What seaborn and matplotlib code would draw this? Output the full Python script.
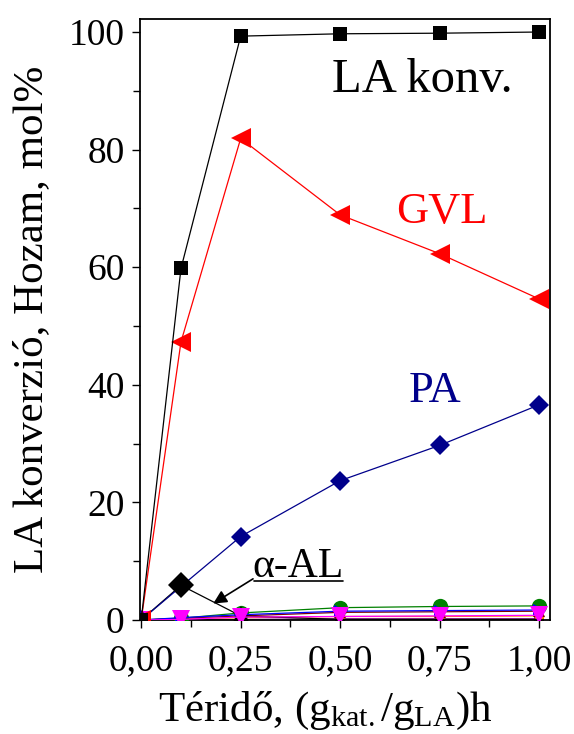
import matplotlib
matplotlib.use("Agg")
import matplotlib.pyplot as plt
from matplotlib.ticker import MultipleLocator, FuncFormatter
import seaborn as sns
import numpy as np

sns.set_theme(style="ticks")
plt.rcParams["font.family"] = ["Liberation Serif", "DejaVu Serif"]
plt.rcParams["mathtext.fontset"] = "custom"
plt.rcParams["mathtext.rm"] = "Liberation Serif"
plt.rcParams["mathtext.it"] = "Liberation Serif"

# space time, (g_cat/g_LA)h
space_time = [0.0, 0.1, 0.25, 0.5, 0.75, 1.0]

la_conv = [0.0, 59.8, 99.3, 99.7, 99.8, 100.0]
gvl = [0.0, 47.3, 81.9, 68.9, 62.3, 54.6]
pa = [0.0, 5.7, 14.2, 23.7, 29.7, 36.6]
alpha_al = [0.0, 5.9, 0.7, 0.1, 0.1, 0.1]
alpha_al_markers = ["^", "D", "^", "^", "^", "^"]
green_s = [0.0, 0.3, 1.2, 2.1, 2.3, 2.4]
blue_s = [0.0, 0.4, 0.9, 1.5, 1.6, 1.7]
darkred_s = [0.0, 0.3, 0.7, 1.3, 1.4, 1.5]
orange_s = [0.0, 0.2, 0.4, 0.6, 0.6, 0.7]
purple_s = [0.0, 0.05, 0.1, 0.2, 0.2, 0.2]
magenta_s = [0.0, 0.1, 0.5, 0.6, 0.7, 0.8]

x_ticks = [0.0, 0.25, 0.5, 0.75, 1.0]
y_ticks = [0, 20, 40, 60, 80, 100]

fig = plt.figure(figsize=(5.74, 7.34), dpi=100)
ax = fig.add_axes([0.2439, 0.1553, 0.958 - 0.2439, 0.974 - 0.1553])

lw = 0.9
# minor by-products near the baseline
sns.lineplot(x=space_time, y=purple_s, ax=ax, color="#800080", lw=lw, marker="s",
             markersize=7, markeredgewidth=0, zorder=2)
sns.lineplot(x=space_time, y=orange_s, ax=ax, color="#ff8000", lw=lw, marker="o",
             markersize=7, markeredgewidth=0, zorder=2)
sns.lineplot(x=space_time, y=green_s, ax=ax, color="#008000", lw=lw, marker="o",
             markersize=11, markeredgewidth=0, zorder=3)
sns.lineplot(x=space_time, y=darkred_s, ax=ax, color="#800000", lw=lw, marker="^",
             markersize=8, markeredgewidth=0, zorder=4)
sns.lineplot(x=space_time, y=blue_s, ax=ax, color="#0000ff", lw=lw, marker=">",
             markersize=8, markeredgewidth=0, zorder=4)

# alpha-angelica lactone
sns.lineplot(x=space_time, y=alpha_al, ax=ax, color="black", lw=lw, zorder=5)
for xv, yv, mk in zip(space_time, alpha_al, alpha_al_markers):
    ms = 13 if mk == "D" else (14 if xv == 0.25 else 6)
    ax.plot([xv], [yv], marker=mk, color="black", markersize=ms,
            markeredgewidth=0, zorder=7 if mk == "D" else 5)

sns.lineplot(x=space_time, y=magenta_s, ax=ax, color="#ff00ff", lw=lw, marker="v",
             markersize=13, markeredgewidth=0, zorder=6)

# main series
sns.lineplot(x=space_time, y=pa, ax=ax, color="#00008b", lw=lw, marker="D",
             markersize=10, markeredgewidth=0, zorder=6)
sns.lineplot(x=space_time, y=gvl, ax=ax, color="#ff0000", lw=lw, marker="<",
             markersize=14, markeredgewidth=0, zorder=6)
sns.lineplot(x=space_time, y=la_conv, ax=ax, color="black", lw=lw, marker="s",
             markersize=10, markeredgewidth=0, zorder=6)

ax.set_xlim(-0.003, 1.027)
ax.set_ylim(0, 102.2)
ax.set_xticks(x_ticks)
ax.set_yticks(y_ticks)
ax.xaxis.set_minor_locator(MultipleLocator(0.125))
ax.yaxis.set_minor_locator(MultipleLocator(10))
ax.xaxis.set_major_formatter(FuncFormatter(lambda v, p: f"{v:.2f}".replace(".", ",")))
ax.tick_params(axis="both", which="both", direction="out", labelsize=27,
               width=1.0, color="black", labelcolor="black")
ax.tick_params(axis="both", which="major", length=6)
ax.tick_params(axis="both", which="minor", length=5)
ax.tick_params(axis="x", pad=11)
ax.tick_params(axis="y", pad=5)
for s in ax.spines.values():
    s.set_visible(True)
    s.set_color("black")
    s.set_linewidth(1.3)

ax.set_xlabel(r"Téridő, (g$_{\mathrm{kat.}}$/g$_{\mathrm{LA}}$)h", fontsize=31,
              color="black")
ax.xaxis.set_label_coords(0.451, -0.116)
ax.set_ylabel("LA konverzió, Hozam, mol%", fontsize=31, color="black", labelpad=13)

ax.text(0.706, 91.8, "LA konv.", fontsize=35, color="black", ha="center", va="center")
ax.text(0.756, 69.4, "GVL", fontsize=32, color="#ff0000", ha="center", va="center")
ax.text(0.739, 39.0, "PA", fontsize=32, color="#00008b", ha="center", va="center")
ax.text(0.394, 9.0, "α-AL", fontsize=30, color="black", ha="center", va="center")
ax.plot([0.283, 0.508], [6.6, 6.6], color="black", lw=1.2, zorder=8)
ax.annotate("", xy=(0.181, 2.8), xytext=(0.281, 7.0),
            arrowprops=dict(arrowstyle="-|>", color="black", lw=1.2,
                            mutation_scale=20, shrinkA=0, shrinkB=0),
            zorder=8)

fig.savefig("out.png", dpi=100)
